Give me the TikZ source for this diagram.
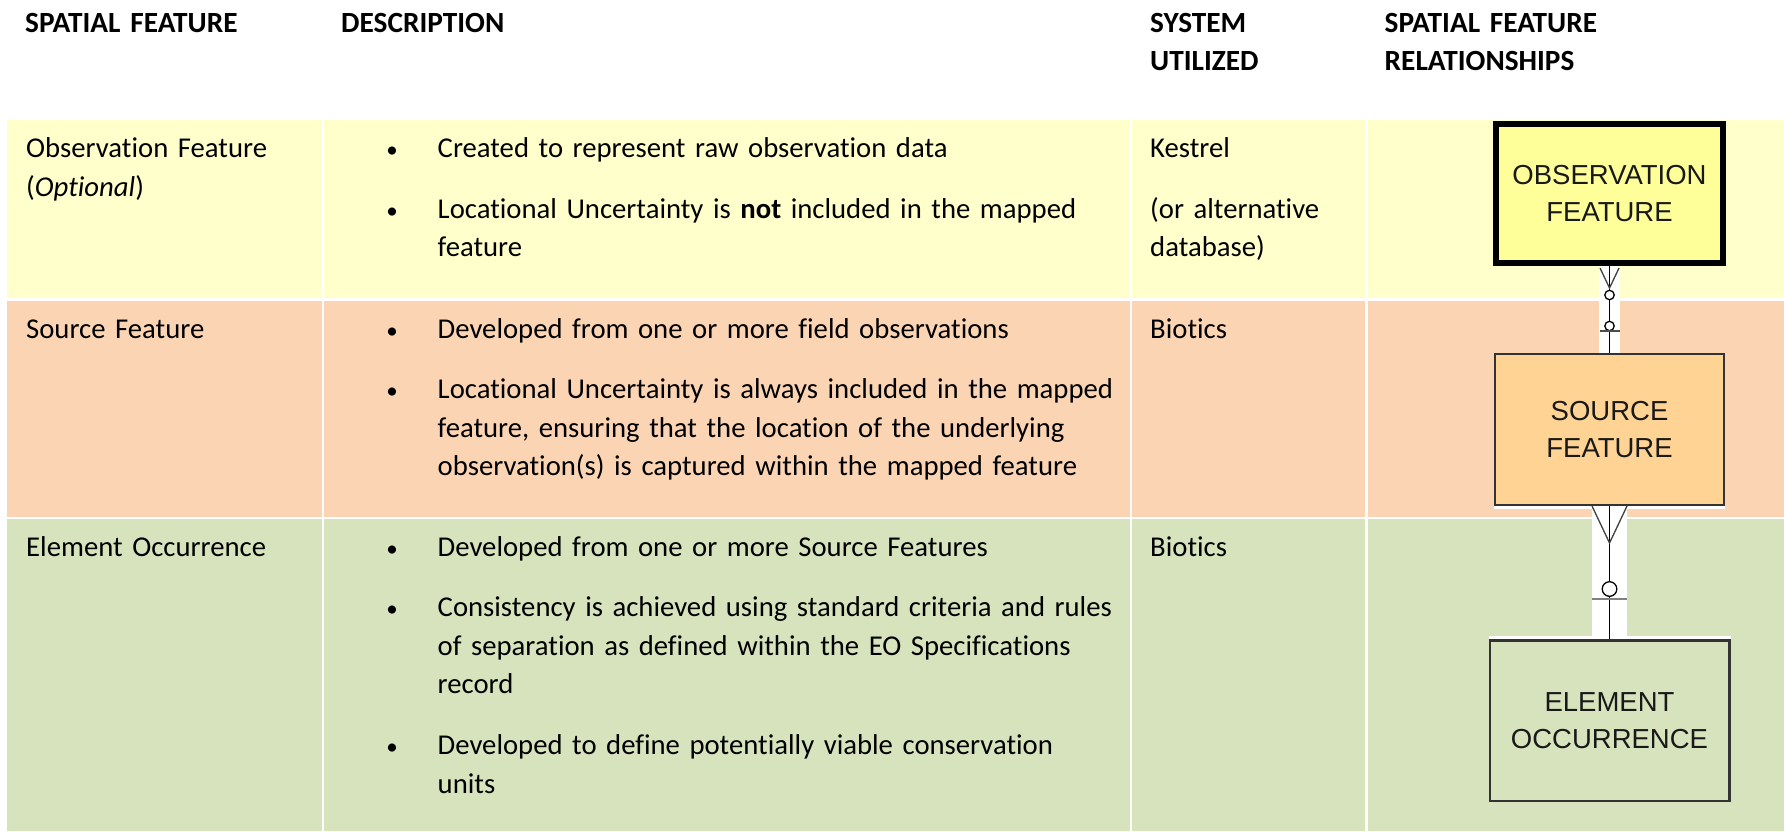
\documentclass[tikz,border=0pt]{standalone}
\usepackage{fontspec}
\setmainfont{Carlito}[Ligatures=NoCommon]
\newfontfamily\boxfont{Liberation Sans}
\usepackage{tikz}
\usetikzlibrary{calc}

\definecolor{rowyellow}{HTML}{FFFFCC}
\definecolor{roworange}{HTML}{FBD4B4}
\definecolor{rowgreen}{HTML}{D7E3BD}
\definecolor{obsfill}{HTML}{FFFF99}
\definecolor{srcfill}{HTML}{FFD393}
\definecolor{eofill}{HTML}{D7E3BD}

\begin{document}
\begin{tikzpicture}[x=1pt, y=-1pt,
		every node/.style={inner sep=0pt, font=\fontsize{28.7}{38.7}\selectfont},
		cell/.style={anchor=base west, align=left, text width=760pt},
		hdr/.style={cell, font=\fontsize{29.3}{38.7}\selectfont\bfseries},
		bullet/.style={anchor=base, font=\fontsize{23}{38.7}\selectfont},
		entity/.style={draw=black!80, line width=2pt, align=center, text=black!90,
			font=\fontsize{27.5}{36.5}\selectfont\boxfont},
		link/.style={line width=1.3pt}]
		
		\fill[white] (0,0) rectangle (1784,831);
		\useasboundingbox (0,0) rectangle (1784,831);
		
		% table cells
		\foreach \t/\b/\c in {120/298/rowyellow, 300.5/516.5/roworange, 519/831/rowgreen}
		\foreach \l/\r in {7/321.5, 324/1129.5, 1132/1365, 1367.5/1784}
		\fill[\c] (\l,\t) rectangle (\r,\b);
		
		% headers
		\node [hdr] (hdr-feat) at (25,32) {SPATIAL FEATURE};
		\node [hdr] (hdr-desc) at (341,32) {DESCRIPTION};
		\node [hdr] (hdr-sys) at (1150,32) {SYSTEM\\UTILIZED};
		\node [hdr] (hdr-rel) at (1384.5,32) {SPATIAL FEATURE\\RELATIONSHIPS};
		
		% spatial feature column
		\node [cell] (feat-1) at (26,157.5) {Observation Feature\\(\textit{Optional})};
		\node [cell] (feat-2) at (26,338) {Source Feature};
		\node [cell] (feat-3) at (26,556) {Element Occurrence};
		
		% description column
		\foreach \m/\y in {1a/157.5, 1b/218, 2a/338, 2b/398.5, 3a/556, 3b/616.5, 3c/754.5}
		\node [bullet] (bul-\m) at (392,\y) {\textbullet};
		
		\node [cell] (desc-1a) at (437.5,157.5) {Created to represent raw observation data};
		\node [cell] (desc-1b) at (437.5,218) {Locational Uncertainty is \textbf{not} included in the mapped\\feature};
		\node [cell] (desc-2a) at (437.5,338) {Developed from one or more field observations};
		\node [cell] (desc-2b) at (437.5,398.5) {Locational Uncertainty is always included in the mapped\\feature, ensuring that the location of the underlying\\observation(s) is captured within the mapped feature};
		\node [cell] (desc-3a) at (437.5,556) {Developed from one or more Source Features};
		\node [cell] (desc-3b) at (437.5,616.5) {Consistency is achieved using standard criteria and rules\\of separation as defined within the EO Specifications\\record};
		\node [cell] (desc-3c) at (437.5,754.5) {Developed to define potentially viable conservation\\units};
		
		% system column
		\node [cell] (sys-1a) at (1150,157.5) {Kestrel};
		\node [cell] (sys-1b) at (1150,218) {(or alternative\\database)};
		\node [cell] (sys-2) at (1150,338) {Biotics};
		\node [cell] (sys-3) at (1150,556) {Biotics};
		
		% relationship diagram
		\node [entity, draw=black, line width=6pt, fill=obsfill, minimum width=227pt, minimum height=139pt]
		(obs) at (1609.5,193.5) {OBSERVATION\\FEATURE};
		\node [entity, fill=srcfill, minimum width=229pt, minimum height=151pt]
		(src) at (1609.5,429.5) {SOURCE\\FEATURE};
		\node [entity, line width=2.5pt, fill=eofill, minimum width=239.5pt, minimum height=160.5pt]
		(eo) at (1609.5,720.5) {ELEMENT\\OCCURRENCE};
		
		% obs -- src : zero or many / zero or one
		\fill[white] ($(obs.south)+(-10.5,0)$) rectangle ($(src.north)+(10.5,0)$);
		\draw [link] (obs.south) -- (src.north);
		\draw [link, black!75] ($(obs.south)+(-9.5,2)$) -- ($(obs.south)+(0,22)$) -- ($(obs.south)+(9.5,2)$);
		\draw [link, fill=white] ($(obs.south)+(0,29)$) circle [radius=4.7pt];
		\draw [link, fill=white] ($(src.north)+(0,-27)$) circle [radius=4.7pt];
		\draw [link, black!70] ($(src.north)+(-10,-22)$) -- ($(src.north)+(10,-22)$);
		
		% src -- eo
		\fill[white] ($(src.south west)+(0,0)$) rectangle ($(src.south east)+(0,3)$);
		\fill[white] ($(eo.north west)+(0,-3)$) rectangle ($(eo.north east)+(0,0)$);
		\fill[white] ($(src.south)+(-17.5,0)$) rectangle ($(eo.north)+(17.5,-3)$);
		\draw [link] (src.south) -- (eo.north);
		\draw [link, black!75] ($(src.south)+(-17.5,0)$) -- ($(src.south)+(0,37)$) -- ($(src.south)+(17.5,0)$);
		\draw [link, fill=white] ($(eo.north)+(0,-50)$) circle [radius=7.3pt];
		\draw [line width=2pt, black!50] ($(eo.north)+(-17.5,-40)$) -- ($(eo.north)+(17.5,-40)$);
		
	\end{tikzpicture}
\end{document}
